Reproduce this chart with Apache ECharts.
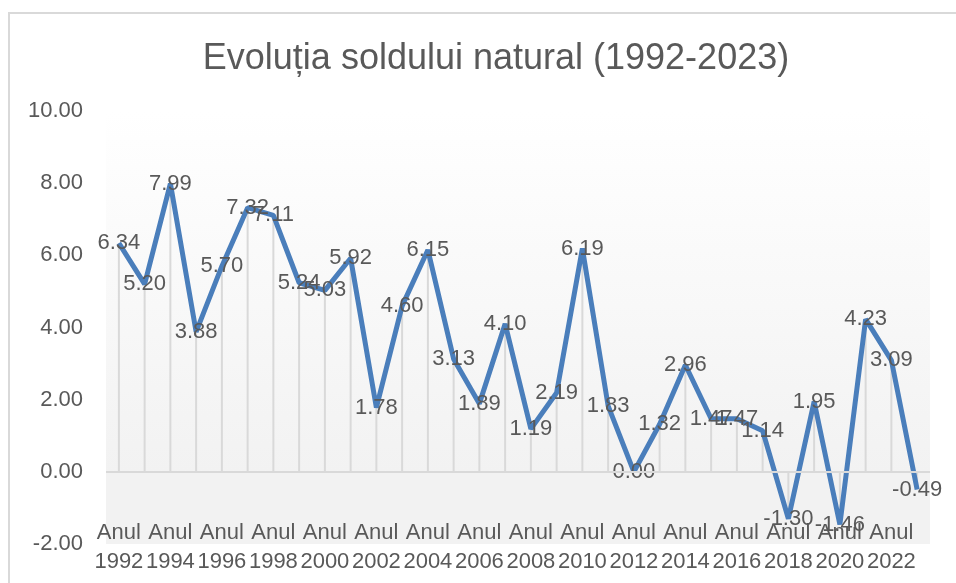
<!DOCTYPE html>
<html>
<head>
<meta charset="utf-8">
<script src="https://cdn.jsdelivr.net/npm/echarts@6/dist/echarts.min.js"></script>
<style>html,body{margin:0;padding:0;background:#fff}#c{width:956px;height:583px}</style>
</head>
<body>
<div id="c"></div>
<script>
var categories = ["Anul 1992","Anul 1993","Anul 1994","Anul 1995","Anul 1996","Anul 1997","Anul 1998","Anul 1999","Anul 2000","Anul 2001","Anul 2002","Anul 2003","Anul 2004","Anul 2005","Anul 2006","Anul 2007","Anul 2008","Anul 2009","Anul 2010","Anul 2011","Anul 2012","Anul 2013","Anul 2014","Anul 2015","Anul 2016","Anul 2017","Anul 2018","Anul 2019","Anul 2020","Anul 2021","Anul 2022","Anul 2023"];
var soldNatural = [6.34,5.20,7.99,3.88,5.70,7.32,7.11,5.24,5.03,5.92,1.78,4.60,6.15,3.13,1.89,4.10,1.19,2.19,6.19,1.83,0.00,1.32,2.96,1.47,1.47,1.14,-1.30,1.95,-1.46,4.23,3.09,-0.49];
var yTicks = {min: -2, max: 10, interval: 2};
var titleText = "Evoluția soldului natural (1992-2023)";

var chart = echarts.init(document.getElementById('c'));
var FONT = "'Liberation Sans', Arial, sans-serif";
chart.setOption({
  animation: false,
  graphic: [{
    type: 'rect', shape: {x: 9, y: 13, width: 960, height: 600},
    style: {fill: 'none', stroke: '#d9d9d9', lineWidth: 2}, silent: true, z: -10
  }],
  title: {
    text: titleText, left: 491, top: 36, textAlign: 'center',
    textStyle: {fontFamily: FONT, fontSize: 36, fontWeight: 'normal', color: '#595959'}
  },
  grid: {
    left: 106, right: 26, top: 111, bottom: 39, show: true, borderWidth: 0,
    backgroundColor: new echarts.graphic.LinearGradient(0, 0, 0, 1, [
      {offset: 0, color: '#ffffff'}, {offset: 0.836, color: '#f2f2f2'}, {offset: 1, color: '#f2f2f2'}
    ])
  },
  xAxis: {
    type: 'category', data: categories, boundaryGap: true, offset: -26,
    axisLine: {show: false}, axisTick: {show: false}, splitLine: {show: false},
    axisLabel: {interval: 1, margin: 0, fontFamily: FONT, fontSize: 22, color: '#595959', lineHeight: 29,
      formatter: function (v) { return v.replace(' ', '\n'); }}
  },
  yAxis: {
    type: 'value', min: yTicks.min, max: yTicks.max, interval: yTicks.interval,
    axisLine: {show: false}, axisTick: {show: false}, splitLine: {show: false},
    axisLabel: {margin: 23, fontFamily: FONT, fontSize: 22, color: '#595959',
      formatter: function (v) { return v.toFixed(2); }}
  },
  series: [{
    type: 'bar', data: soldNatural, barWidth: 2, barGap: '-100%', silent: true,
    itemStyle: {color: '#d9d9d9'}, z: 1
  }, {
    type: 'line', data: soldNatural, showSymbol: false, symbol: 'none', z: 3, silent: true,
    lineStyle: {color: '#4a7ebb', width: 5},
    markLine: {silent: true, symbol: 'none', label: {show: false},
      lineStyle: {color: '#d9d9d9', width: 2, type: 'solid'}, data: [{yAxis: 0}]}
  }, {
    type: 'scatter', data: soldNatural, symbolSize: 2, z: 4, silent: true,
    itemStyle: {color: 'rgba(0,0,0,0)', opacity: 1},
    label: {show: true, position: 'inside', fontFamily: FONT, fontSize: 22, color: '#595959',
      opacity: 1, textBorderWidth: 0,
      formatter: function (p) { return p.value.toFixed(2); }}
  }]
});
</script>
</body>
</html>
